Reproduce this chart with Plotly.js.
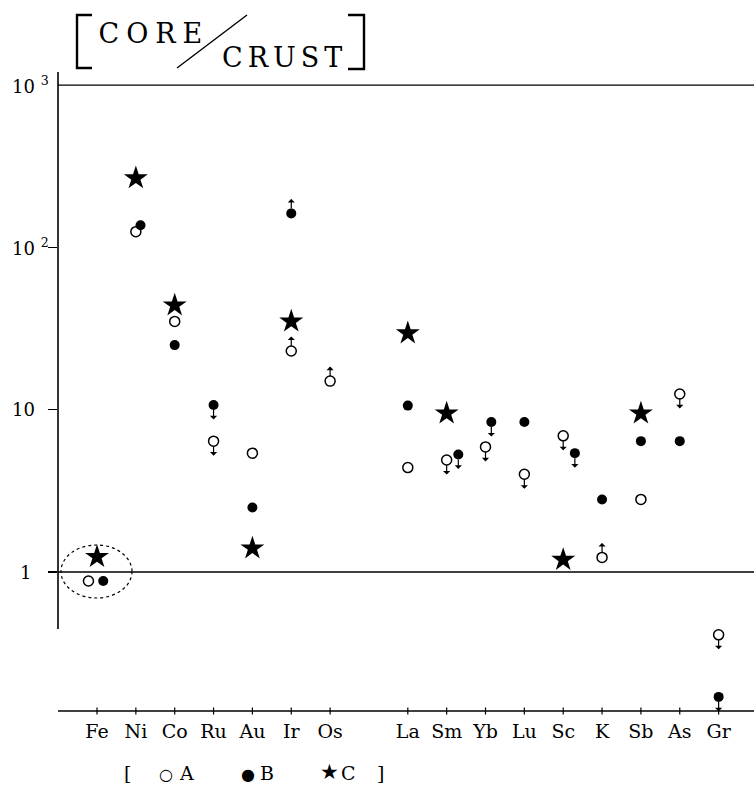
<!DOCTYPE html>
<html><head><meta charset="utf-8">
<script src="https://cdn.plot.ly/plotly-3.0.1.min.js"></script>
<style>body{margin:0;background:#fff}</style>
</head><body><div id="chart" style="width:754px;height:785px"></div>
<script>
// ---- data ----
const categories = ['Fe','Ni','Co','Ru','Au','Ir','Os','La','Sm','Yb','Lu','Sc','K','Sb','As','Gr'];
const seriesA = [0.88, 125, 35, 6.4, 5.4, 23, 15, 4.4, 4.9, 5.9, 4.0, 6.9, 1.23, 2.8, 12.5, 0.41];
const seriesB = [0.88, 137, 25, 10.7, 2.5, 162, null, 10.6, 5.3, 8.4, 8.4, 5.4, 2.8, 6.4, 6.4, 0.17];
const seriesC = [1.24, 267, 44, null, 1.4, 35, null, 29.6, 9.5, null, null, 1.19, null, 9.5, null, null];
const limitA = ['','','','upper','','lower','lower','','upper','upper','upper','upper','lower','','upper','upper'];
const limitB = ['','','','upper','','lower','','','upper','upper','','upper','','','','upper'];
const seriesNames = ['A','B','C'];
const yTickVals = [1, 10, 100, 1000];
const yTickText = ['1', '10', '10 <sup>2</sup>', '10 <sup>3</sup>'];

// ---- layout helpers (positions / styles) ----
const gapAfter = 'Os';
const gapIdx = categories.indexOf(gapAfter);
const pos = categories.map((c, i) => i <= gapIdx ? i : i + 1);
const jitterA = categories.map(c => ({Fe: -0.22}[c] || 0));
const jitterB = categories.map(c => ({Fe: 0.16, Ni: 0.12, Sm: 0.3, Yb: 0.15, Sc: 0.3}[c] || 0));

const L = 58, T = 72, W = 696, H = 639;
const YMIN = -0.8564, YMAX = 3.0807;
const px = p => (p - L) / W;
const py = p => (T + H - p) / H;
const pyv = v => (Math.log10(v) - YMIN) / (YMAX - YMIN);
const SERIF = 'DejaVu Serif, Liberation Serif, serif';
const K = '#000';

const traces = [
  {x: pos.map((p, i) => p + jitterA[i]), y: seriesA, name: seriesNames[0], type: 'scatter', mode: 'markers',
   cliponaxis: false, marker: {symbol: 'circle-open', size: 10, color: K, line: {width: 1.5, color: K}}},
  {x: pos.map((p, i) => p + jitterB[i]), y: seriesB, name: seriesNames[1], type: 'scatter', mode: 'markers',
   cliponaxis: false, marker: {symbol: 'circle', size: 10, color: K}},
  {x: pos, y: seriesC, name: seriesNames[2], type: 'scatter', mode: 'markers',
   cliponaxis: false, marker: {symbol: 'star', size: 18, color: K, line: {width: 0}}}
];

const shapes = [];
const line = (x0, y0, x1, y1, w) => shapes.push({type: 'line', xref: 'paper', yref: 'paper',
  x0: x0, y0: y0, x1: x1, y1: y1, line: {color: K, width: w || 1.4}});
// y axis line
line(0, py(629), 0, py(72), 1.6);
// x axis line
line(0, 0, 1, 0, 1.4);
// reference lines at 1 and 10^3
line(0, pyv(1), 1, pyv(1), 1.4);
line(0, pyv(1000), 1, pyv(1000), 1.4);
// x ticks crossing the axis
pos.forEach(p => shapes.push({type: 'line', xref: 'x', yref: 'paper', ysizemode: 'pixel', yanchor: 0,
  x0: p, x1: p, y0: -3.5, y1: 3.5, line: {color: K, width: 1.2}}));
// dotted ellipse around Fe
shapes.push({type: 'circle', xref: 'paper', yref: 'paper', x0: px(61), x1: px(132), y0: py(598), y1: py(545),
  line: {color: K, width: 1.2, dash: 'dot'}});
// title brackets and slash
const path = pts => 'M ' + pts.map(q => px(q[0]) + ',' + py(q[1])).join(' L ');
shapes.push({type: 'path', xref: 'paper', yref: 'paper', path: path([[92, 15], [77, 15], [77, 68], [92, 68]]),
  line: {color: K, width: 2.4}});
shapes.push({type: 'path', xref: 'paper', yref: 'paper', path: path([[348, 15], [364, 15], [364, 69], [348, 69]]),
  line: {color: K, width: 2.4}});
line(px(177), py(68), px(247), py(15), 1.4);

const ann = [];
// y tick labels
const yLabX = {1: 18, 10: 10, 100: 10, 1000: 10};
yTickVals.forEach((v, i) => ann.push({xref: 'paper', yref: 'y', x: px(yLabX[v]), y: Math.log10(v),
  xanchor: 'left', yanchor: 'middle', text: yTickText[i], showarrow: false,
  font: {family: SERIF, size: 18, color: K}}));
// limit arrows
function addArrows(vals, lims, jit) {
  vals.forEach((v, i) => {
    if (v == null || !lims[i]) return;
    ann.push({xref: 'x', yref: 'y', x: pos[i] + jit[i], y: Math.log10(v), text: '', showarrow: true,
      ax: 0, ay: lims[i] === 'upper' ? 15 : -15, arrowside: 'start', arrowhead: 1, arrowsize: 0.9,
      arrowwidth: 1.2, arrowcolor: K, standoff: 5, startstandoff: 0, font: {size: 1}, borderpad: 0});
  });
}
addArrows(seriesA, limitA, jitterA);
addArrows(seriesB, limitB, jitterB);
// title
ann.push({xref: 'paper', yref: 'paper', x: px(150), y: py(33), xanchor: 'center', yanchor: 'middle',
  text: 'CORE', showarrow: false, font: {family: SERIF, size: 27, color: K}});
ann.push({xref: 'paper', yref: 'paper', x: px(282), y: py(57), xanchor: 'center', yanchor: 'middle',
  text: 'CRUST', showarrow: false, font: {family: SERIF, size: 27, color: K}});
// legend line
const legItems = [['[', 127, 19], ['○', 166, 16], [seriesNames[0], 186, 19], ['●', 248, 16], [seriesNames[1], 267, 19],
                  ['★', 329, 21], [seriesNames[2], 348, 19], [']', 380, 19]];
legItems.forEach(it => ann.push({xref: 'paper', yref: 'paper', x: px(it[1]), y: py(785), xanchor: 'center',
  yanchor: 'bottom', text: it[0], showarrow: false, borderpad: 0,
  font: {family: SERIF, size: it[2], color: K}}));

const layout = {
  width: 754, height: 785, margin: {l: L, r: 754 - L - W, t: T, b: 785 - T - H, pad: 0},
  paper_bgcolor: '#fff', plot_bgcolor: '#fff', showlegend: false,
  xaxis: {range: [-1.004, 16.911], showline: false, showgrid: false, zeroline: false,
    tickvals: pos, ticktext: categories, ticks: '', tickfont: {family: SERIF, size: 19, color: K}, ticklabelstandoff: 7},
  yaxis: {type: 'log', range: [YMIN, YMAX], showline: false, showgrid: false, zeroline: false,
    tickvals: [1, 10, 100], ticks: 'outside', ticklen: 9, tickwidth: 1.2, tickcolor: K, showticklabels: false},
  shapes: shapes, annotations: ann
};

Plotly.newPlot('chart', traces, layout, {displayModeBar: false, staticPlot: true}).then(() => {
  const spacing = {CORE: 7, CRUST: 5};
  document.querySelectorAll('text.annotation-text').forEach(t => {
    const s = spacing[t.textContent];
    if (s) { t.setAttribute('letter-spacing', s); t.setAttribute('dx', s / 2); }
  });
});
</script>
</body></html>
